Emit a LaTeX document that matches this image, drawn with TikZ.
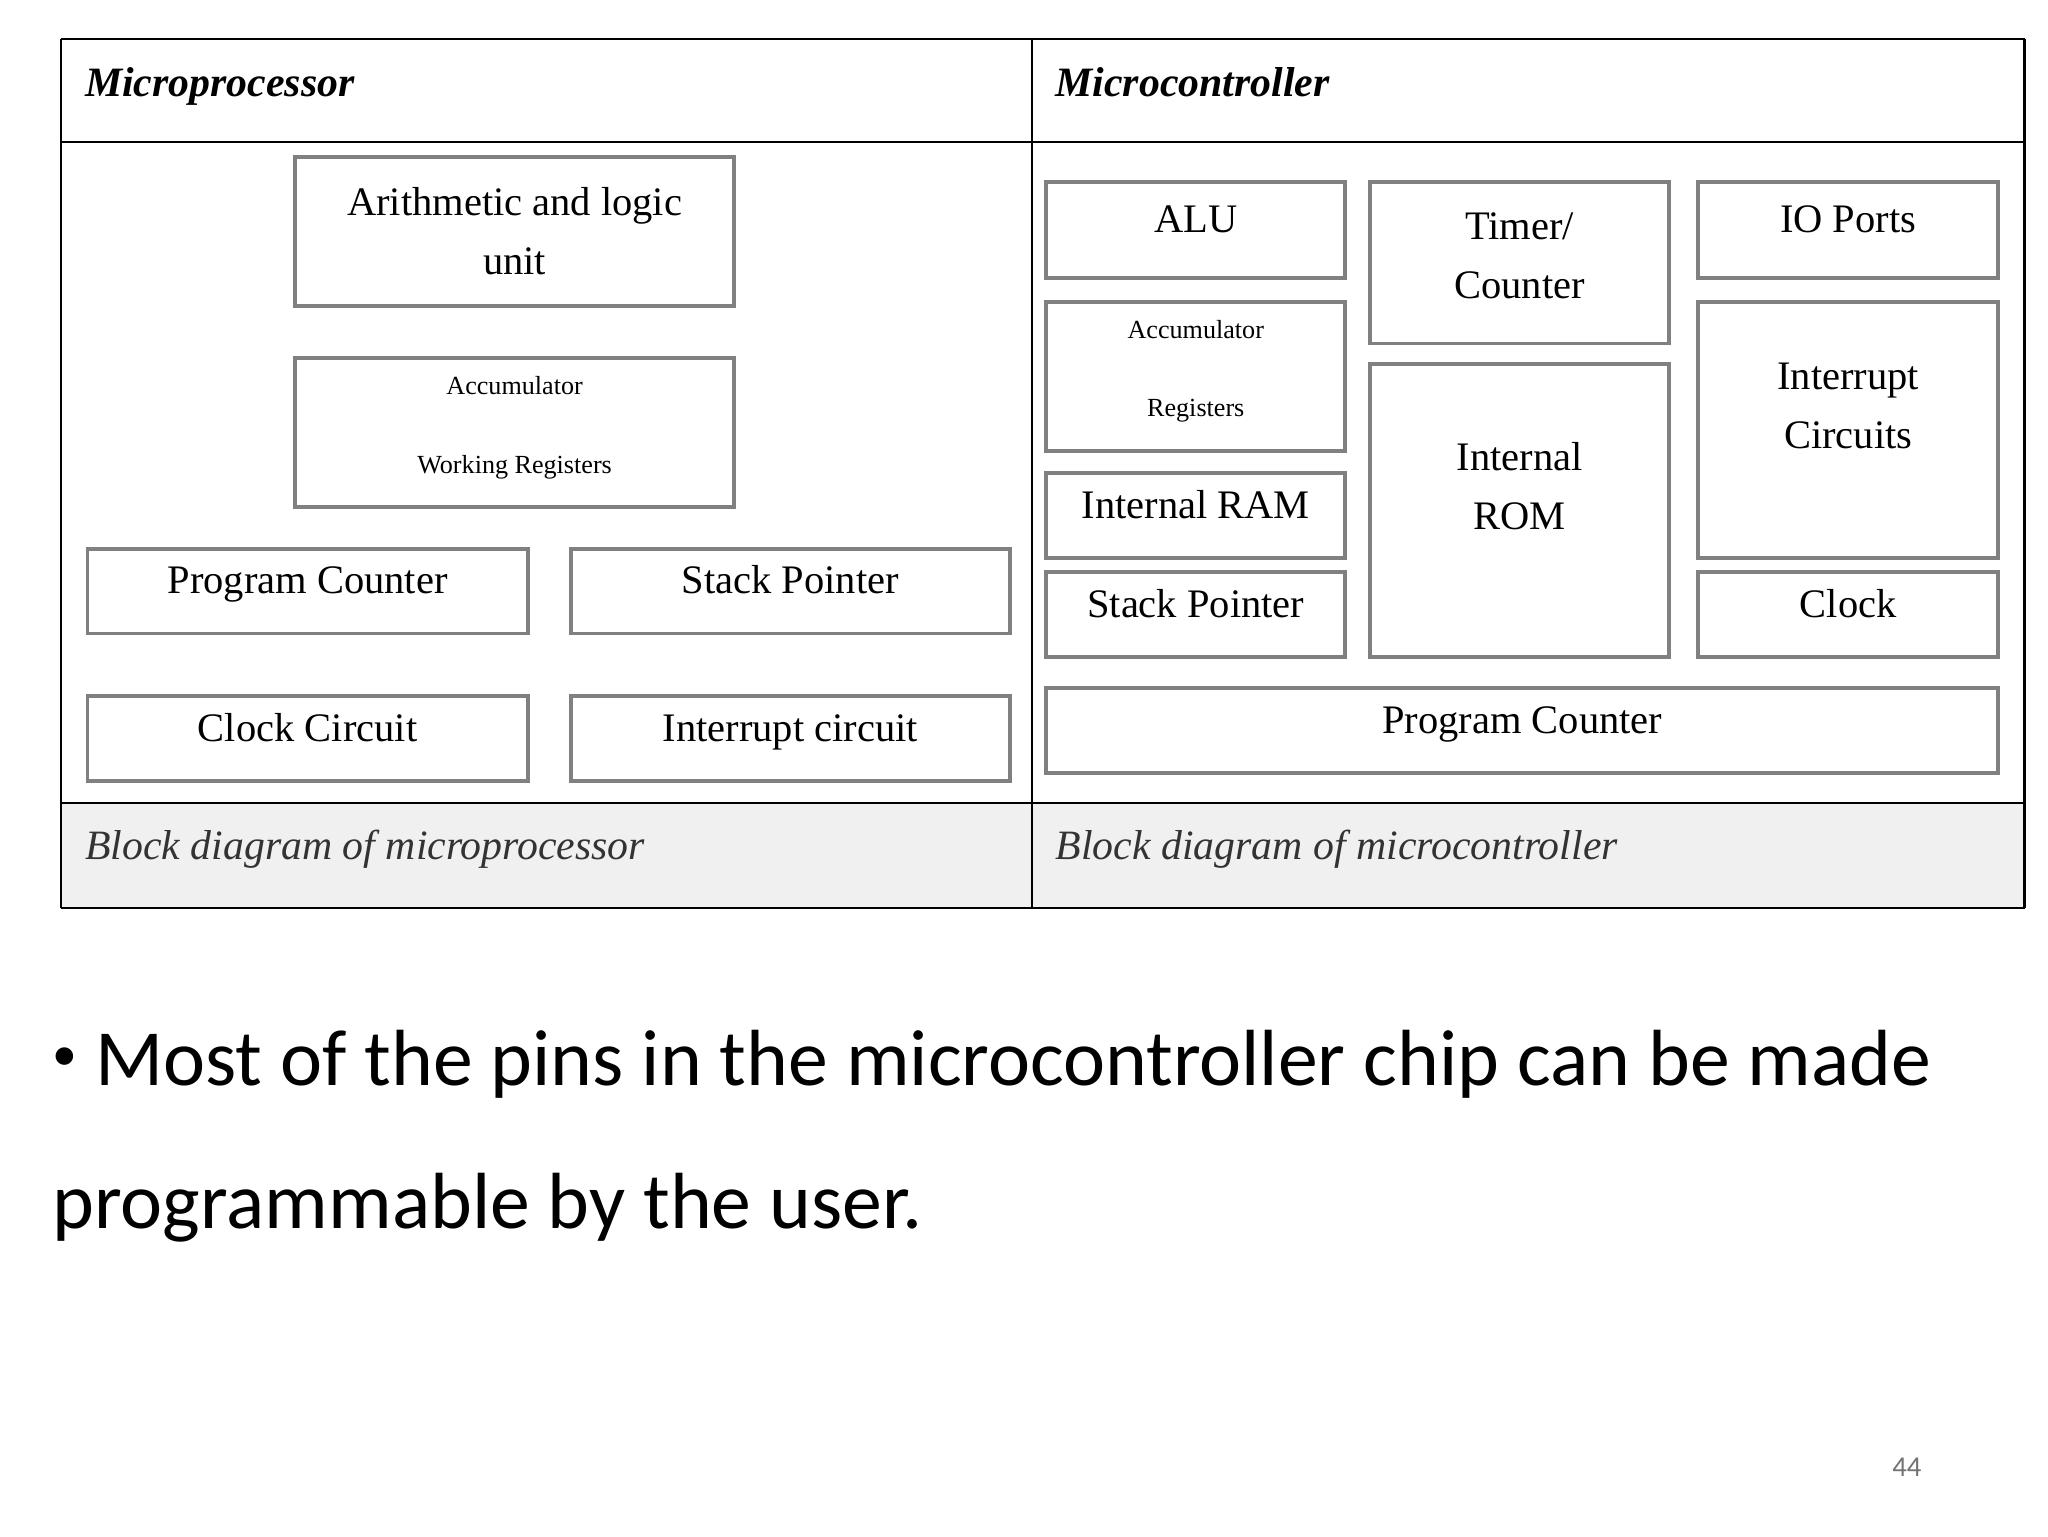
\documentclass[tikz,border=0pt]{standalone}
\usepackage{fontspec}
\setmainfont{Liberation Serif}
\newfontfamily\bul{Carlito}
\begin{document}
\begin{tikzpicture}[x=1pt,y=-1pt,
  bx/.style={draw=black!50,line width=3pt,inner sep=0pt,align=center,font=\fontsize{31}{45}\selectfont},
  sx/.style={text height=0.7em,text depth=0.25em},
  sm/.style={font=\fontsize{20}{24}\selectfont,inner sep=0pt,text height=0.7em,text depth=0.25em},
  hd/.style={anchor=west,inner sep=0pt,text height=0.7em,text depth=0.25em,font=\fontsize{32}{36}\selectfont\bfseries\itshape},
  captxt/.style={anchor=west,inner sep=0pt,text height=0.7em,text depth=0.25em,font=\fontsize{32}{36}\selectfont\itshape,text=black!80},
  tl/.style={line width=1.6pt}]
\useasboundingbox (0,0) rectangle (1568,1176);
\fill[black!6] (47,615) rectangle (1550,695);
\draw[tl] (47,30) -- (1550,30) (47,109) -- (1550,109) (47,615) -- (1550,615) (47,695) -- (1550,695)
  (47,30) -- (47,695) (790,30) -- (790,695) (1550,30) -- (1550,695);
\node[hd] (h1) at (65,72) {Microprocessor};
\node[hd] (h2) at (808,72) {Microcontroller};
\node[captxt] (c1) at (65,656) {Block diagram of microprocessor};
\node[captxt] (c2) at (808,656) {Block diagram of microcontroller};
% left
\node[bx,minimum width=336pt,minimum height=114pt] (alu) at (394,177) {Arithmetic and logic\\unit};
\node[bx,minimum width=336pt,minimum height=114pt] (acc) at (394,331) {};
\node[sm] (acc1) at (394,300) {Accumulator};
\node[sm] (acc2) at (394,360) {Working Registers};
\node[bx,sx,minimum width=337pt,minimum height=65pt] (pc) at (235.5,452.5) {Program Counter};
\node[bx,sx,minimum width=336pt,minimum height=65pt] (sp) at (605,452.5) {Stack Pointer};
\node[bx,sx,minimum width=337pt,minimum height=65pt] (cc) at (235.5,565.5) {Clock Circuit};
\node[bx,sx,minimum width=336pt,minimum height=65pt] (ic) at (605,565.5) {Interrupt circuit};
% right
\node[bx,sx,minimum width=229pt,minimum height=74pt] (ralu) at (915.5,176) {ALU};
\node[bx,minimum width=229pt,minimum height=114pt] (racc) at (915.5,288) {};
\node[sm] (racc1) at (915.5,257) {Accumulator};
\node[sm] (racc2) at (915.5,317) {Registers};
\node[bx,sx,minimum width=229pt,minimum height=65pt] (ram) at (915.5,394.5) {Internal RAM};
\node[bx,sx,minimum width=229pt,minimum height=65pt] (rsp) at (915.5,470.5) {Stack Pointer};
\node[bx,minimum width=229pt,minimum height=124pt] (tim) at (1163.5,201) {};
\node[font=\fontsize{31}{45}\selectfont,align=center,inner sep=0pt] (timt) at (1163.5,196) {Timer/\\Counter};
\node[bx,minimum width=229pt,minimum height=224pt] (rom) at (1163.5,391) {};
\node[font=\fontsize{31}{45}\selectfont,align=center,inner sep=0pt] (romt) at (1163.5,372) {Internal\\ROM};
\node[bx,sx,minimum width=230pt,minimum height=74pt] (io) at (1415,176) {IO Ports};
\node[bx,minimum width=230pt,minimum height=196pt] (int) at (1415,329) {};
\node[font=\fontsize{31}{45}\selectfont,align=center,inner sep=0pt] (intt) at (1415,311) {Interrupt\\Circuits};
\node[bx,sx,minimum width=230pt,minimum height=65pt] (clk) at (1415,470.5) {Clock};
\node[bx,sx,minimum width=729pt,minimum height=65pt] (rpc) at (1165.5,559.5) {Program Counter};
% bullet text
\node[anchor=west,inner sep=0pt,font=\bul\fontsize{61}{80}\selectfont] (b1) at (40,815) {{\fontsize{38}{40}\selectfont\raisebox{12pt}{•}}\ Most of the pins in the microcontroller chip can be made};
\node[anchor=west,inner sep=0pt,font=\bul\fontsize{61}{80}\selectfont] (b2) at (40,925) {programmable by the user.};
\node[inner sep=0pt,font=\bul\fontsize{22}{26}\selectfont,text=black!55] (pg) at (1460,1123) {44};
\end{tikzpicture}
\end{document}
